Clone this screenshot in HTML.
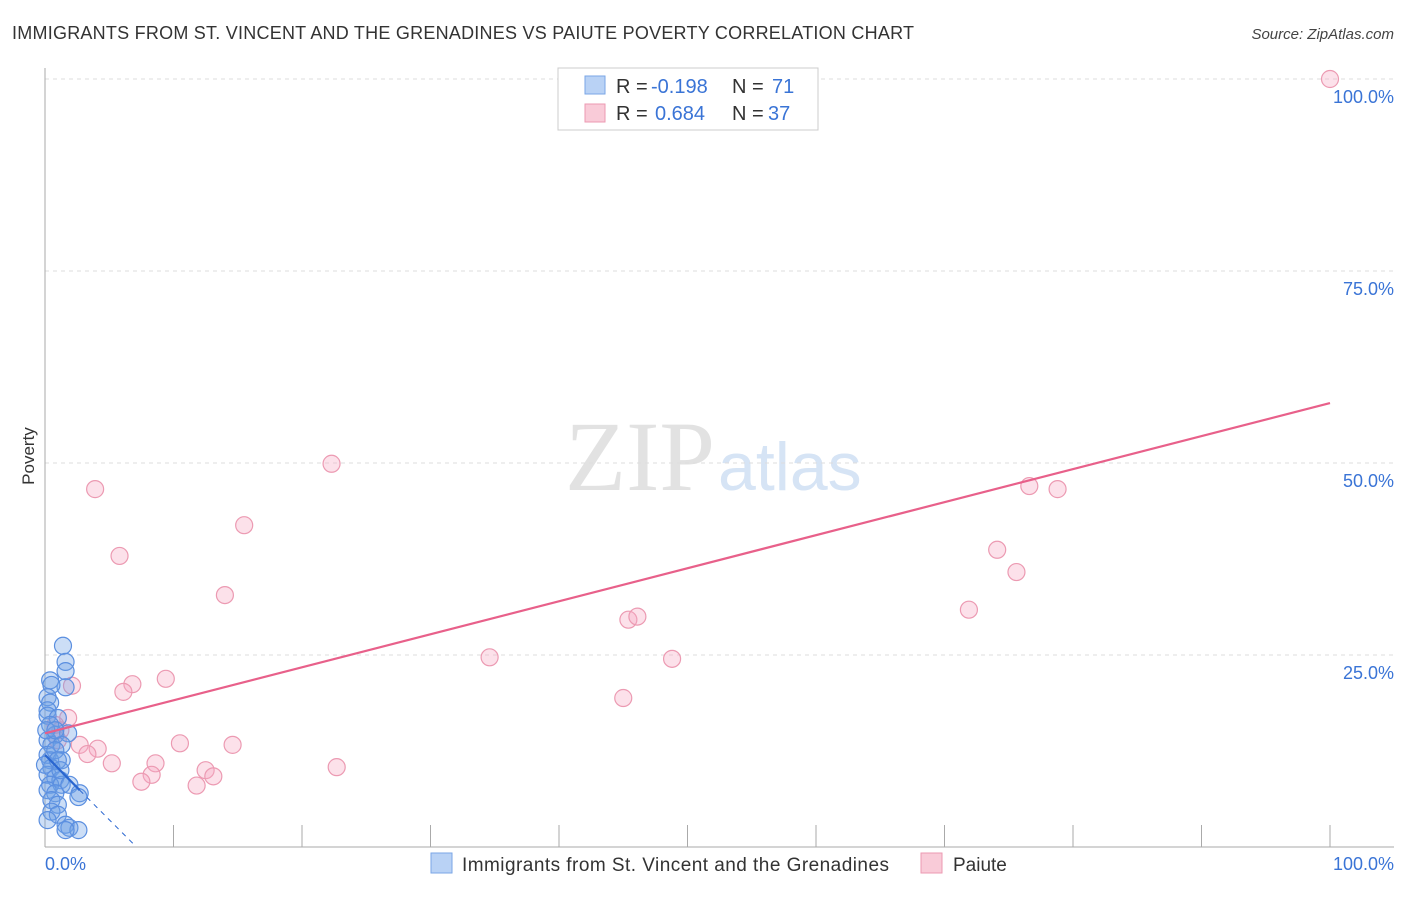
<!DOCTYPE html>
<html><head><meta charset="utf-8"><style>
body{margin:0;background:#fff;font-family:"Liberation Sans",sans-serif;}
</style></head><body>
<svg width="1406" height="892" style="font-family:'Liberation Sans',sans-serif">
<text x="12" y="39" font-size="18" fill="#333" textLength="902">IMMIGRANTS FROM ST. VINCENT AND THE GRENADINES VS PAIUTE POVERTY CORRELATION CHART</text>
<text x="1394" y="39" font-size="15" fill="#444" font-style="italic" text-anchor="end">Source: ZipAtlas.com</text>
<text x="715" y="490" font-size="100" fill="#e2e2e2" text-anchor="end" style="font-family:'Liberation Serif',serif">ZIP</text>
<text x="718" y="490" font-size="68" fill="#d6e4f5">atlas</text>
<g id="grid"></g>
<line x1="45" y1="68" x2="45" y2="847" stroke="#aaa"/>
<line x1="45" y1="847" x2="1394" y2="847" stroke="#aaa"/>
<text x="34" y="456" font-size="17" fill="#333" transform="rotate(-90 34 456)" text-anchor="middle">Poverty</text>
<text x="45" y="870" font-size="18" fill="#3a74d6">0.0%</text>
<text x="1394" y="870" font-size="18" fill="#3a74d6" text-anchor="end">100.0%</text>
<g id="pts"></g>
<g id="lines"></g>
<g font-size="20">
<rect x="558" y="68" width="260" height="62" fill="#fff" stroke="#ccc"/>
<rect x="585" y="76" width="20" height="18" fill="#b9d2f5" stroke="#7aa6e6"/>
<text x="616" y="93" fill="#333">R =</text>
<text x="651" y="93" fill="#3a74d6">-0.198</text>
<text x="732" y="93" fill="#333">N =</text>
<text x="772" y="93" fill="#3a74d6">71</text>
<rect x="585" y="104" width="20" height="18" fill="#f9cbd8" stroke="#ec9ab2"/>
<text x="616" y="120" fill="#333">R =</text>
<text x="655" y="120" fill="#3a74d6">0.684</text>
<text x="732" y="120" fill="#333">N =</text>
<text x="768" y="120" fill="#3a74d6">37</text>
</g>
<g>
<rect x="431" y="853" width="21" height="20" fill="#b9d2f5" stroke="#7aa6e6"/>
<text x="462" y="871" font-size="19" fill="#333" textLength="427">Immigrants from St. Vincent and the Grenadines</text>
<rect x="921" y="853" width="21" height="20" fill="#f9cbd8" stroke="#ec9ab2"/>
<text x="953" y="871" font-size="19" fill="#333">Paiute</text>
</g>
</svg>
<script>
const yTicks=[100,75,50,25];
const yTickLabels=["100.0%","75.0%","50.0%","25.0%"];
const xTicks=[10,20,30,40,50,60,70,80,90,100];
const blueX=[1.4,1.6,1.6,1.6,0.4,0.5,0.2,0.4,0.2,0.2,1.0,0.4,0.8,1.8,0.2,0.5,1.3,0.2,0.4,1.3,0.5,0.2,0.8,1.2,0.4,1.3,1.9,0.2,0.8,2.7,0.5,1.0,2.6,0.5,1.0,0.2,1.6,1.9,2.6,0.8,0,1.0,0.1,1.2,1.6,0.8];
const blueY=[26.2,24.1,22.9,20.8,21.7,21.1,19.5,18.8,17.8,17.1,16.8,15.9,14.6,14.8,13.9,13.3,13.3,12.0,11.3,11.3,10.3,9.4,9.0,8.7,8.1,8.1,8.1,7.4,7.0,7.0,6.1,5.5,6.5,4.6,4.2,3.5,2.9,2.5,2.2,12.6,10.7,11.3,15.2,10.0,2.2,15.2];
const pinkX=[100,22.3,3.9,15.5,5.8,14.0,76.6,78.8,74.1,75.6,71.9,45.4,46.1,34.6,48.8,45.0,2.1,6.8,6.1,9.4,1.8,10.5,14.6,4.1,2.7,3.3,5.2,8.6,8.3,12.5,13.1,7.5,11.8,22.7,1.2,1.0,0.8];
const pinkY=[100,49.9,46.6,41.9,37.9,32.8,47.0,46.6,38.7,35.8,30.9,29.6,30.0,24.7,24.5,19.4,21.0,21.2,20.2,21.9,16.8,13.5,13.3,12.8,13.3,12.1,10.9,10.9,9.4,10.0,9.2,8.5,8.0,10.4,15.2,13.9,15.9];
const pinkLine=[[0,14.8],[100,57.8]];
const blueLine=[[0,12.0],[2.7,7.4]];
const blueDash=[[2.7,7.4],[7.0,0.2]];
const NS="http://www.w3.org/2000/svg";
const sx=v=>45+v*12.85, sy=v=>847-v*7.68;
function mk(t,a,p){const e=document.createElementNS(NS,t);for(const k in a)e.setAttribute(k,a[k]);p.appendChild(e);return e;}
const grid=document.getElementById('grid');
yTicks.forEach((t,i)=>{
 const l=mk('line',{x1:45,x2:1394,y1:sy(t),y2:sy(t),stroke:'#ddd','stroke-dasharray':'4,4'},grid);
 
 
 const tx=mk('text',{x:1394,y:sy(t)+24,'font-size':18,fill:'#3a74d6','text-anchor':'end'},grid);
 tx.textContent=yTickLabels[i];
 
 
});
xTicks.forEach(t=>{
 const l=mk('line',{x1:sx(t),x2:sx(t),y1:825,y2:847,stroke:'#aaa'},grid);
 
 
});
const pts=document.getElementById('pts');
pinkX.forEach((x,i)=>{
 const c=mk('circle',{cx:sx(x),cy:sy(pinkY[i]),r:8.5,fill:'rgba(246,170,195,0.35)',stroke:'#ec9ab2','stroke-width':1.2},pts);
 
 
});
blueX.forEach((x,i)=>{
 const c=mk('circle',{cx:sx(x),cy:sy(blueY[i]),r:8.5,fill:'rgba(110,160,230,0.35)',stroke:'#5b8fe0','stroke-width':1.2},pts);
 
 
});
const lines=document.getElementById('lines');
let l=mk('line',{x1:sx(pinkLine[0][0]),y1:sy(pinkLine[0][1]),x2:sx(pinkLine[1][0]),y2:sy(pinkLine[1][1]),stroke:'#e8608a','stroke-width':2.2},lines);


l=mk('line',{x1:sx(blueLine[0][0]),y1:sy(blueLine[0][1]),x2:sx(blueLine[1][0]),y2:sy(blueLine[1][1]),stroke:'#2a66d0','stroke-width':2.2},lines);


l=mk('line',{x1:sx(blueDash[0][0]),y1:sy(blueDash[0][1]),x2:sx(blueDash[1][0]),y2:sy(blueDash[1][1]),stroke:'#2a66d0','stroke-width':1,'stroke-dasharray':'5,5'},lines);


</script>
</body></html>
